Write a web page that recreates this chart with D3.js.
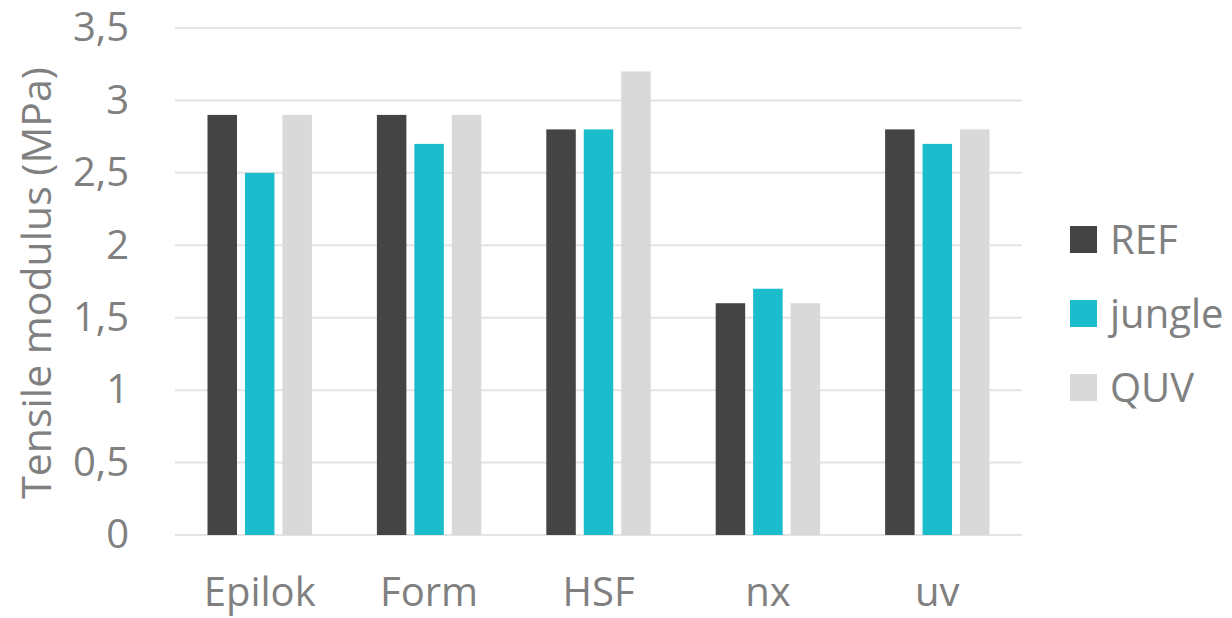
<!DOCTYPE html>
<html>
<head>
<meta charset="utf-8">
<script src="https://cdn.jsdelivr.net/npm/d3@7/dist/d3.min.js"></script>
<style>
  html, body { margin: 0; padding: 0; background: #fff; }
  svg { display: block; }
  text { font-family: "Open Sans", sans-serif; fill: #808080; }
</style>
</head>
<body>
<svg id="chart" width="1232" height="618"></svg>
<script>
// Tensile modulus per formulation and exposure
const categories = ["Epilok", "Form", "HSF", "nx", "uv"];
const seriesNames = ["REF", "jungle", "QUV"];
const refValues = [2.9, 2.9, 2.8, 1.6, 2.8];
const jungleValues = [2.5, 2.7, 2.8, 1.7, 2.7];
const quvValues = [2.9, 2.9, 3.2, 1.6, 2.8];
const yTicks = [0, 0.5, 1, 1.5, 2, 2.5, 3, 3.5];
const seriesColors = ["#444444", "#1bbccb", "#d9d9d9"];

const seriesValues = [refValues, jungleValues, quvValues];
const rows = categories.map((c, i) => ({
  category: c,
  values: seriesNames.map((s, j) => ({ series: s, value: seriesValues[j][i], color: seriesColors[j] }))
}));

const svg = d3.select("#chart");
const plot = { left: 175, right: 1022, top: 28, bottom: 535 };

const x = d3.scaleBand().domain(categories).range([plot.left, plot.right]).paddingInner(0).paddingOuter(0);
const xInner = d3.scaleBand().domain(seriesNames).range([32.5, x.bandwidth() - 32.5]).paddingInner(0.213);
const y = d3.scaleLinear().domain([0, 3.5]).range([plot.bottom, plot.top]);

const fmt = d => String(d).replace(".", ",");

// Gridlines
svg.append("g")
  .selectAll("line")
  .data(yTicks)
  .join("line")
  .attr("x1", plot.left).attr("x2", plot.right)
  .attr("y1", d => y(d)).attr("y2", d => y(d))
  .attr("stroke", "#e4e4e4")
  .attr("stroke-width", 2);

// Y axis labels
const yAxis = d3.axisLeft(y).tickValues(yTicks).tickFormat(fmt).tickSize(0).tickPadding(0);
const yg = svg.append("g").attr("transform", `translate(${plot.left - 46},0)`).call(yAxis);
yg.select(".domain").remove();
yg.selectAll("text").attr("font-size", 40).attr("fill", "#808080").attr("font-family", "Open Sans");

// Bars
const groups = svg.append("g")
  .selectAll("g")
  .data(rows)
  .join("g")
  .attr("transform", d => `translate(${x(d.category)},0)`);

groups.selectAll("rect")
  .data(d => d.values)
  .join("rect")
  .attr("x", d => xInner(d.series))
  .attr("width", xInner.bandwidth())
  .attr("y", d => y(d.value))
  .attr("height", d => y(0) - y(d.value))
  .attr("fill", d => d.color);

// X axis labels
const xAxis = d3.axisBottom(x).tickSize(0).tickPadding(0);
const xg = svg.append("g").attr("transform", `translate(0,${plot.bottom + 43})`).call(xAxis);
xg.select(".domain").remove();
xg.selectAll("text").attr("font-size", 40).attr("fill", "#808080").attr("font-family", "Open Sans");

// Axis title
svg.append("text")
  .attr("transform", `translate(51,283) rotate(-90)`)
  .attr("text-anchor", "middle")
  .attr("font-size", 41)
  .text("Tensile modulus (MPa)");

// Legend
const legend = svg.append("g").attr("transform", "translate(1070,226)");
const items = legend.selectAll("g")
  .data(seriesNames)
  .join("g")
  .attr("transform", (d, i) => `translate(0,${i * 74})`);
items.append("rect")
  .attr("width", 27).attr("height", 27)
  .attr("fill", (d, i) => seriesColors[i]);
items.append("text")
  .attr("x", 40).attr("y", 13.5)
  .attr("dy", "0.36em")
  .attr("font-size", 40)
  .text(d => d);
</script>
</body>
</html>
